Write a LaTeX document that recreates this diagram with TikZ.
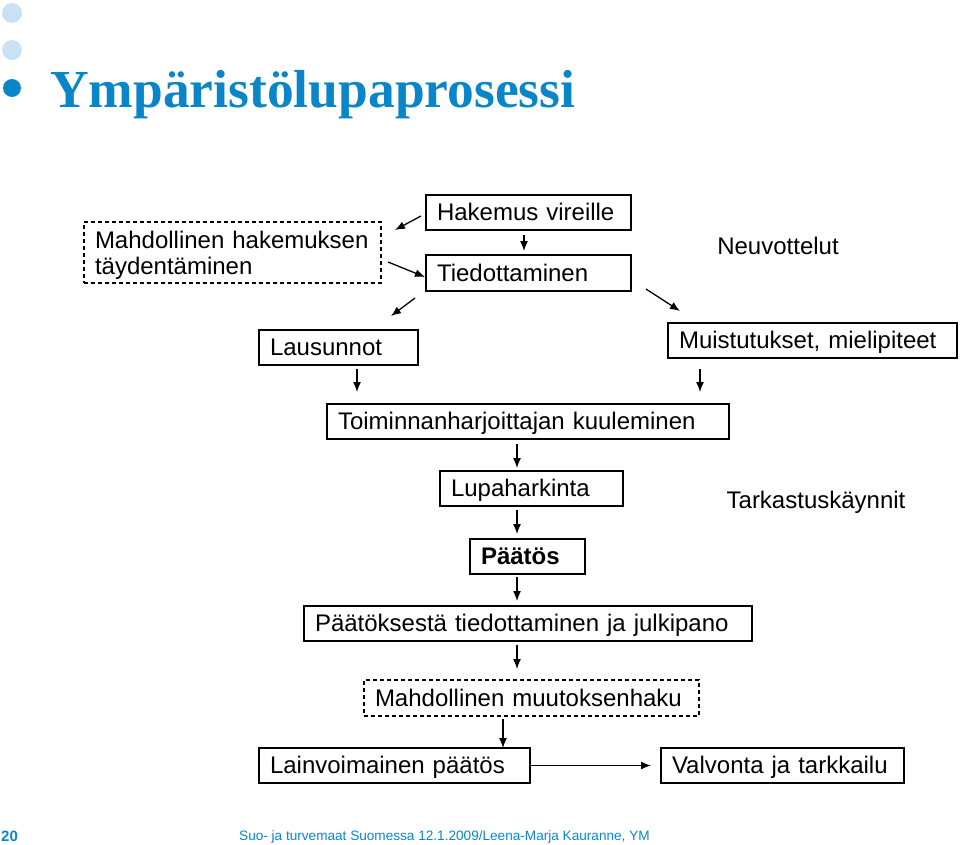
\documentclass[tikz,border=0pt]{standalone}
\usepackage{fontspec}
\setmainfont{Liberation Sans}
\newfontfamily\titlefont{Liberation Serif}
\usetikzlibrary{arrows.meta}
\definecolor{titleblue}{HTML}{0A86C8}
\definecolor{lightblue}{HTML}{C8E2F3}
\newcommand{\boxstrut}{\rule[-5pt]{0pt}{26pt}}
\tikzset{
  box/.style={draw=black, line width=1.2pt, inner xsep=11pt, inner ysep=0pt,
    align=left, font=\fontsize{24}{28}\selectfont, anchor=center,
    execute at begin node=\boxstrut},
  dbox/.style={box, dash pattern=on 4pt off 3pt},
  plain/.style={font=\fontsize{24}{28}\selectfont, inner sep=0pt},
  arr/.style={line width=1.3pt, -{Latex[length=10pt,width=8pt]}},
}
\begin{document}
\begin{tikzpicture}[x=1pt,y=-1pt]
\useasboundingbox (0,0) rectangle (960,845);
% bullets and title
\fill[lightblue] (12,13) circle (10);
\fill[lightblue] (12,50) circle (10);
\fill[titleblue] (12,88) circle (9);
\node[anchor=base west, inner sep=0pt, text=titleblue,
  font=\titlefont\bfseries\fontsize{53.5}{60}\selectfont] (title) at (50,108) {Ympäristölupaprosessi};
% boxes
\node[box, text width=183pt, minimum height=35pt] (hak) at (528.5,212.5) {Hakemus vireille};
\node[box, text width=183pt, minimum height=36pt] (tied) at (528.5,273) {Tiedottaminen};
\node[dbox, text width=275pt, minimum height=61pt, font=\fontsize{24}{26}\selectfont] (mahd) at (232.5,252.5) {\rule{0pt}{23pt}Mahdollinen hakemuksen\\täydentäminen\rule[-5pt]{0pt}{5pt}};
\node[plain] (neuv) at (778,246) {Neuvottelut};
\node[box, text width=137pt, minimum height=35pt] (laus) at (338.5,347.5) {Lausunnot};
\node[box, text width=267pt, minimum height=35pt] (muist) at (812.5,340.5) {Muistutukset, mielipiteet};
\node[box, text width=380pt, minimum height=35pt] (toim) at (528,421.5) {Toiminnanharjoittajan kuuleminen};
\node[box, text width=161pt, minimum height=35pt] (lupa) at (531.5,488.5) {Lupaharkinta};
\node[plain] (tark) at (816,502) {Tarkastuskäynnit};
\node[box, text width=93pt, minimum height=35pt, font=\bfseries\fontsize{24}{28}\selectfont] (paat) at (527.5,556.5) {Päätös};
\node[box, text width=426pt, minimum height=35pt] (paatt) at (528,623.5) {Päätöksestä tiedottaminen ja julkipano};
\node[dbox, text width=313pt, minimum height=36pt] (muut) at (531.5,698) {Mahdollinen muutoksenhaku};
\node[box, text width=249pt, minimum height=35pt] (lain) at (394.5,765.5) {Lainvoimainen päätös};
\node[box, text width=221pt, minimum height=35pt] (valv) at (782.5,765.5) {Valvonta ja tarkkailu};
% free arrow ends
\coordinate (a1s) at (421,216); \coordinate (a1e) at (395,230);
\coordinate (a2s) at (388,262); \coordinate (a2e) at (425,277);
\coordinate (a3s) at (524,235); \coordinate (a3e) at (524,251);
\coordinate (a4s) at (415,298); \coordinate (a4e) at (391,316);
\coordinate (a5s) at (646,289); \coordinate (a5e) at (680,311);
\coordinate (a6s) at (357,369); \coordinate (a6e) at (357,392);
\coordinate (a7s) at (700,369); \coordinate (a7e) at (700,392);
\coordinate (a8s) at (517,444); \coordinate (a8e) at (517,468);
\coordinate (a9s) at (517,510); \coordinate (a9e) at (517,534);
\coordinate (a10s) at (517,577); \coordinate (a10e) at (517,601);
\coordinate (a11s) at (517,645); \coordinate (a11e) at (517,669);
\coordinate (a12s) at (503,719); \coordinate (a12e) at (503,748);
\coordinate (a13e) at (651,765.5);
\draw[arr] (a1s) -- (a1e);
\draw[arr] (a2s) -- (a2e);
\draw[arr] (a3s) -- (a3e);
\draw[arr] (a4s) -- (a4e);
\draw[arr] (a5s) -- (a5e);
\draw[arr] (a6s) -- (a6e);
\draw[arr] (a7s) -- (a7e);
\draw[arr] (a8s) -- (a8e);
\draw[arr] (a9s) -- (a9e);
\draw[arr] (a10s) -- (a10e);
\draw[arr] (a11s) -- (a11e);
\draw[arr] (a12s) -- (a12e);
\draw[arr] (lain.east) -- (a13e);
% footer
\node[anchor=base west, inner sep=0pt, text=titleblue, font=\bfseries\fontsize{15}{17}\selectfont] (pnum) at (1,841) {20};
\node[anchor=base west, inner sep=0pt, text=titleblue, font=\fontsize{13.6}{16}\selectfont] (foot) at (239,840) {Suo- ja turvemaat Suomessa 12.1.2009/Leena-Marja Kauranne, YM};
\end{tikzpicture}
\end{document}
